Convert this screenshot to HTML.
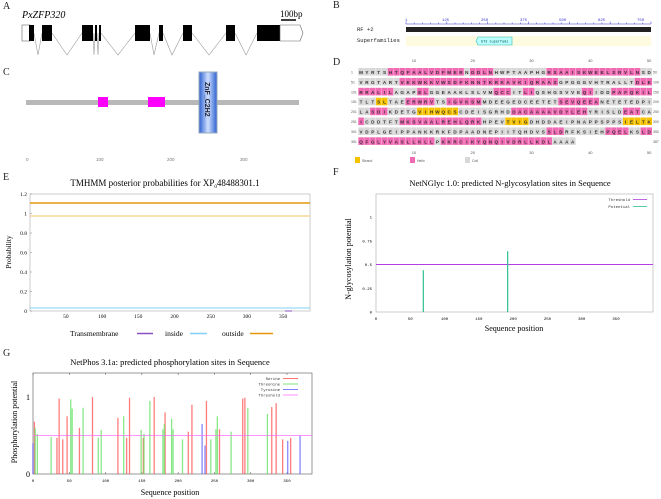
<!DOCTYPE html>
<html><head><meta charset="utf-8">
<style>
html,body{margin:0;padding:0;background:#fff;}
svg{display:block;}
svg text{font-family:"Liberation Serif",serif;}
svg text.mono, svg .mono text{font-family:"Liberation Mono",monospace;}
svg text.sans, svg .sans text{font-family:"Liberation Sans",sans-serif;}
</style></head>
<body>
<svg id="fig" width="661" height="499" viewBox="0 0 661 499" font-family="Liberation Serif, serif">
<g font-size="10" fill="#222">
<text x="3" y="9">A</text>
<text x="333" y="8">B</text>
<text x="3" y="75">C</text>
<text x="333" y="65">D</text>
<text x="3" y="180">E</text>
<text x="333" y="175">F</text>
<text x="3" y="356">G</text>
</g>

<g id="panelA">
<text x="22" y="18" font-size="10" font-style="italic">PxZFP320</text>
<text x="280" y="17" font-size="9">100bp</text>
<line x1="281" y1="20" x2="296" y2="20" stroke="#000" stroke-width="1.5"/>
<g fill="none" stroke="#999" stroke-width="0.6">
<polyline points="34,33 38,55 42,33"/>
<polyline points="52,33 67,55 82,33"/>
<polyline points="93,33 94,55 95,33"/>
<polyline points="97,33 98,55 99,33"/>
<polyline points="101,33 118,55 135,33"/>
<polyline points="150,33 154,55 159,33"/>
<polyline points="163,33 172,55 183,33"/>
<polyline points="192,33 209,55 226,33"/>
<polyline points="235,33 246,55 257,33"/>
</g>
<rect x="22" y="25" width="8" height="16" fill="#fff" stroke="#666" stroke-width="0.6"/>
<rect x="29" y="25" width="5" height="16" fill="#000"/>
<rect x="42" y="25" width="10" height="16" fill="#000"/>
<rect x="82" y="25" width="11" height="16" fill="#000"/>
<rect x="95" y="25" width="2" height="16" fill="#000"/>
<rect x="99" y="25" width="2" height="16" fill="#000"/>
<rect x="135" y="25" width="15" height="16" fill="#000"/>
<rect x="159" y="25" width="4" height="16" fill="#000"/>
<rect x="183" y="25" width="9" height="16" fill="#000"/>
<rect x="226" y="25" width="9" height="16" fill="#000"/>
<rect x="257" y="25" width="23" height="16" fill="#000"/>
<polygon points="280,25 300,25 303,33 300,41 280,41" fill="#fff" stroke="#666" stroke-width="0.6"/>
</g>

<g id="panelC">
<rect x="26" y="100" width="273" height="5" fill="#b8b8b8"/>
<rect x="98" y="97" width="10" height="10" fill="#ff00ff"/>
<rect x="148" y="97" width="17" height="10" fill="#ff00ff"/>
<defs><linearGradient id="zg" x1="0" x2="1"><stop offset="0" stop-color="#2a5fd0"/><stop offset="0.5" stop-color="#cfe0ff"/><stop offset="1" stop-color="#2a5fd0"/></linearGradient></defs>
<rect x="199" y="72" width="18" height="61" fill="url(#zg)" stroke="#9ab" stroke-width="1"/>
<text class="sans" transform="translate(205,82) rotate(90)" font-size="7" font-weight="bold" fill="#223">ZnF_C2H2</text>
<g font-size="4.5" fill="#777" class="sans">
<text x="26" y="161">0</text><text x="96" y="161">100</text><text x="167" y="161">200</text><text x="240" y="161">300</text>
</g>
</g>

<g id="panelB">
<rect x="406" y="27" width="245" height="5" fill="#222"/>
<line x1="406" y1="24" x2="651" y2="24" stroke="#33c" stroke-width="0.6"/>
<g id="bticks" stroke="#33c" stroke-width="0.5"></g>
<g font-size="4" fill="#33c" class="mono">
<text x="405" y="21">1</text><text x="442" y="21">125</text><text x="481" y="21">250</text><text x="520" y="21">375</text><text x="559" y="21">500</text><text x="598" y="21">625</text><text x="637" y="21">750</text>
</g>
<rect x="406" y="36" width="245" height="10" fill="#fffbe0"/>
<text x="357" y="31" font-size="5.5" class="mono" fill="#222">RF +2</text>
<text x="357" y="42" font-size="5.5" class="mono" fill="#222">Superfamilies</text>
<polygon points="478,37 512,37 512,45 478,45 476,41" fill="#bff" stroke="#3bb" stroke-width="0.6"/>
<text x="481" y="42.5" font-size="3.5" class="mono" fill="#055">GT3 superfami</text>
</g>

<g id="panelD"></g>

<g id="panelE">
<text x="165" y="186" font-size="9" text-anchor="middle">TMHMM posterior probabilities for XP<tspan font-size="5" dy="2">0</tspan><tspan dy="-2">48488301.1</tspan></text>
<rect x="30" y="194" width="280" height="117" fill="none" stroke="#aaa" stroke-width="0.6"/>
<g id="eTicks"></g>
<text transform="translate(11,252) rotate(-90)" font-size="7.5" text-anchor="middle">Probability</text>
<line x1="30" y1="203" x2="310" y2="203" stroke="#e8960c" stroke-width="1.5"/>
<line x1="30" y1="216" x2="310" y2="216" stroke="#f5c36a" stroke-width="1"/>
<line x1="30" y1="308" x2="310" y2="308" stroke="#7fd0f5" stroke-width="1"/>
<line x1="285" y1="311" x2="292" y2="311" stroke="#8a4fc0" stroke-width="1"/>
<g font-size="7.5">
<text x="70" y="336">Transmembrane</text><line x1="137" y1="333.5" x2="153" y2="333.5" stroke="#8a4fc0" stroke-width="1.5"/>
<text x="165" y="336">inside</text><line x1="190" y1="333.5" x2="207" y2="333.5" stroke="#7fd0f5" stroke-width="1.5"/>
<text x="222" y="336">outside</text><line x1="250" y1="333.5" x2="273" y2="333.5" stroke="#e8960c" stroke-width="1.5"/>
</g>
</g>

<g id="panelF">
<text x="510" y="186" font-size="8.5" text-anchor="middle">NetNGlyc 1.0: predicted N-glycosylation sites in Sequence</text>
<rect x="376" y="194" width="277" height="118" fill="none" stroke="#aaa" stroke-width="0.6"/>
<g id="fTicks"></g>
<text transform="translate(351,259) rotate(-90)" font-size="8" text-anchor="middle">N-glycosylation potential</text>
<text x="514" y="331" font-size="8" text-anchor="middle">Sequence position</text>
<g id="fMarks"></g>
<g font-size="4" class="mono" fill="#333">
<text x="630" y="201" text-anchor="end">Threshold</text><line x1="633" y1="199.5" x2="647" y2="199.5" stroke="#b040e0" stroke-width="0.8"/>
<text x="630" y="208" text-anchor="end">Potential</text><line x1="633" y1="206.5" x2="647" y2="206.5" stroke="#2cc090" stroke-width="0.8"/>
</g>
</g>

<g id="panelG">
<text x="170" y="365" font-size="8.5" text-anchor="middle">NetPhos 3.1a: predicted phosphorylation sites in Sequence</text>
<rect x="33" y="373" width="279" height="101" fill="none" stroke="#555" stroke-width="0.6"/>
<g id="gTicks"></g>
<text transform="translate(17,422) rotate(-90)" font-size="8" text-anchor="middle">Phosphorylation potential</text>
<text x="170" y="495" font-size="8" text-anchor="middle">Sequence position</text>
<g id="gMarks"></g>
<g font-size="4" class="mono" fill="#333">
<text x="280" y="380" text-anchor="end">Serine</text><line x1="283" y1="378.5" x2="298" y2="378.5" stroke="#ff5050" stroke-width="0.8"/>
<text x="280" y="385.5" text-anchor="end">Threonine</text><line x1="283" y1="384" x2="298" y2="384" stroke="#60e060" stroke-width="0.8"/>
<text x="280" y="391" text-anchor="end">Tyrosine</text><line x1="283" y1="389.5" x2="298" y2="389.5" stroke="#6060ff" stroke-width="0.8"/>
<text x="280" y="396.5" text-anchor="end">Threshold</text><line x1="283" y1="395" x2="298" y2="395" stroke="#ff70ff" stroke-width="0.8"/>
</g>
</g>
</svg>

<script>
const seqRows = [
"MYRTSHTQFAALVDFMERNGDLNHWPTAAPHGRSAAISKWEELSRVLNSD",
"VRGTARTVEKWKKVWSDFKNNTKRKAVKIQRAASGPGGGVHTRALLTDLE",
"RRALILAGAPELGGEAAKLSLVMQCCITLIQSHGSVVEQIIDDPAFQKIL",
"TLTSLTAEERWRVTSIGVKSMMDEEGEDCEETETSEVQEEANETETEDPI",
"LASDIKDETGVIHWQCSCDEISGRHDDACAAAAVDYLEHYRISLDEATCA",
"ICDDTFTMKSVAALREHLQRKHPEVTVIGDHDDAEIPNAPPSPPSIELTK",
"VDPLGEIPPANKKRKFDPAADNEPIITQHDVSSLDRFKSIEHPQELKSLD",
"QFGLYVASLLKLLPKKRCIKYQNQIVDRLLKDLAAAA"];
const ssRows = [
"CCCCCHHHHHHHHHHHHHCHHHHCCCCCCCCCHHHHHHHHHHHHHHHHCC",
"CCCCCCCHHHHHHHHHHHHHHHHHHHHHHHHHHHCCCCCCCCCCCCCHHH",
"HHHHHHCCCCHHCCCCCCCCCCCHHHCCHHCCCCCCCCHHCCCHHHHHHH",
"CCCEECCCHHHHHCCHHHHHHCCCCCCCCCCCCCHHHHHHHCCCCCCCCC",
"CCHHHCCCCCEEEEEEECCCCCCCCCHHHHHHHHHHHHHCCCCCCHHHCC",
"HCCCCCCHHHHHHHHHHHHHHCCCCEEEECCCCCCCCCCCCCCCCEEEEE",
"CCCCCCCCCCCCCCCCCCCCCCCCCCCCCCCCHHHCCCCCCCHHHHCCHH",
"HHHHHHHHHHHHHCHHHHHHHHHHHHHHHHHHHCCCC"];
const glycPos = [69, 192];
const glycVal = [0.44, 0.64];
const glycThreshold = 0.5;
const serPos = [2,33,36,41,47,64,82,117,129,133,152,167,182,214,219,239,257,289,292,329,335,344,355];
const serVal = [0.68,0.47,0.98,0.45,0.75,0.6,1.0,0.73,0.47,0.99,0.47,1.0,0.8,0.55,0.9,0.95,0.58,0.98,0.99,0.87,0.92,0.45,0.47];
const thrPos = [3,6,25,52,54,69,90,94,125,149,153,161,179,181,191,193,206,245,252,254,273,296,323];
const thrVal = [0.6,0.52,0.48,0.97,0.85,0.86,0.47,0.57,0.75,0.57,0.52,0.95,0.58,0.65,0.72,0.58,0.45,0.45,0.58,0.75,0.55,0.86,0.78];
const tyrPos = [0,233,237,351,368];
const tyrVal = [0.4,0.65,0.37,0.43,0.5];
const phosThreshold = 0.5;
const eYTicks = ["0","0.2","0.4","0.6","0.8","1","1.2"];
const eXTicks = [50,100,150,200,250,300,350];
const fYTicks = [0,0.25,0.5,0.75,1];
const fXTicks = [0,50,100,150,200,250,300,350];
const gXTicks = [0,50,100,150,200,250,300,350];

const NS='http://www.w3.org/2000/svg';
function mk(tag, attrs, parent){const e=document.createElementNS(NS,tag);for(const k in attrs)e.setAttribute(k,attrs[k]);parent.appendChild(e);return e;}

const bt=document.getElementById('bticks');
for(let i=0;i<=30;i++){const x=406+i*245/30;mk('line',{x1:x,y1:24,x2:x,y2:i%5===0?21.5:22.5},bt);}

const D=document.getElementById('panelD');
const colX=i=>361+i*5.88, rowY=r=>72+r*9.9;
const ssColor={H:'#f06ab4',E:'#f7c300',C:'#d8d8d8'};
seqRows.forEach((s,r)=>{
  const ss=ssRows[r];
  for(let i=0;i<s.length;i++){
    const cell=mk('rect',{x:colX(i)-2.7,y:rowY(r)-4,width:5.6,height:7.6,fill:ssColor[ss[i]]},D);
    
    
    const t=mk('text',{x:colX(i),y:rowY(r)+2,'font-size':4.6,'text-anchor':'middle',class:'sans','font-weight':'bold',fill:'#333'},D);
    t.textContent=s[i];
  }
  const l=mk('text',{x:351,y:rowY(r)+1.5,'font-size':3.5,fill:'#555',class:'sans'},D);l.textContent=String(r*50+1);
  const rr=mk('text',{x:653,y:rowY(r)+1.5,'font-size':3.5,fill:'#555',class:'sans'},D);rr.textContent=String(r===7?387:(r+1)*50);
});
[10,20,30,40,50].forEach(n=>{
  [62,154].forEach(y=>{const t=mk('text',{x:colX(n-1),y:y,'font-size':4,'text-anchor':'middle',fill:'#555',class:'sans'},D);t.textContent=n;});
});
[['Strand','#f7c300',355],['Helix','#f06ab4',410],['Coil','#d8d8d8',465]].forEach(([n,c,x])=>{
  mk('rect',{x:x,y:157,width:5,height:6,fill:c},D);
  const t=mk('text',{x:x+7,y:162,'font-size':3.5,fill:'#555',class:'sans'},D);t.textContent=n;
});

const eT=document.getElementById('eTicks');
const eY=v=>311-v*(117/1.2), eX=p=>29.7+p*(36.2/50);
eYTicks.forEach(s=>{const v=parseFloat(s);const t=mk('text',{x:27,y:eY(v)+2,'font-size':5.5,'text-anchor':'end'},eT);t.textContent=s;mk('line',{x1:30,y1:eY(v),x2:32,y2:eY(v),stroke:'#888','stroke-width':0.5},eT);});
eXTicks.forEach(p=>{const t=mk('text',{x:eX(p),y:318,'font-size':5.5,'text-anchor':'middle'},eT);t.textContent=p;});

const fT=document.getElementById('fTicks'), fM=document.getElementById('fMarks');
const fX=p=>376+p*(240/350), fY=v=>312-v*95;
fYTicks.forEach(v=>{const t=mk('text',{x:372,y:fY(v)+1.5,'font-size':4,'text-anchor':'end',class:'mono'},fT);t.textContent=String(v);});
fXTicks.forEach(p=>{const t=mk('text',{x:fX(p),y:320,'font-size':4,'text-anchor':'middle',class:'mono'},fT);t.textContent=p;});
const fth=mk('line',{x1:376,y1:fY(glycThreshold),x2:653,y2:fY(glycThreshold),stroke:'#b040e0','stroke-width':1},fM);


glycPos.forEach((p,i)=>{
  const l=mk('line',{x1:fX(p),y1:fY(0),x2:fX(p),y2:fY(glycVal[i]),stroke:'#2cc090','stroke-width':1.2},fM);
  
  
});

const gT=document.getElementById('gTicks'), gM=document.getElementById('gMarks');
const gX=p=>33+p*(254/350), gY=v=>474-v*77;
[['0',0],['1',1]].forEach(([s,v])=>{const t=mk('text',{x:30,y:gY(v)+3,'font-size':8,'text-anchor':'end'},gT);t.textContent=s;});
gXTicks.forEach(p=>{const t=mk('text',{x:gX(p),y:482,'font-size':4,'text-anchor':'middle',class:'mono'},gT);t.textContent=p;
  mk('line',{x1:gX(p),y1:474,x2:gX(p),y2:472,stroke:'#555','stroke-width':0.5},gT);mk('line',{x1:gX(p),y1:373,x2:gX(p),y2:375,stroke:'#555','stroke-width':0.5},gT);});
function sticks(pos,val,col,name){
  pos.forEach((p,i)=>{
    const l=mk('line',{x1:gX(p),y1:gY(0),x2:gX(p),y2:gY(val[i]),stroke:col,'stroke-width':1.3,'stroke-opacity':0.75},gM);
    
    
  });
}
sticks(serPos,serVal,'#ff5050','serine-site');
sticks(thrPos,thrVal,'#60e060','threonine-site');
sticks(tyrPos,tyrVal,'#6060ff','tyrosine-site');
const gth=mk('line',{x1:33,y1:gY(phosThreshold),x2:312,y2:gY(phosThreshold),stroke:'#ff70ff','stroke-width':0.8},gM);


</script>
</body></html>
